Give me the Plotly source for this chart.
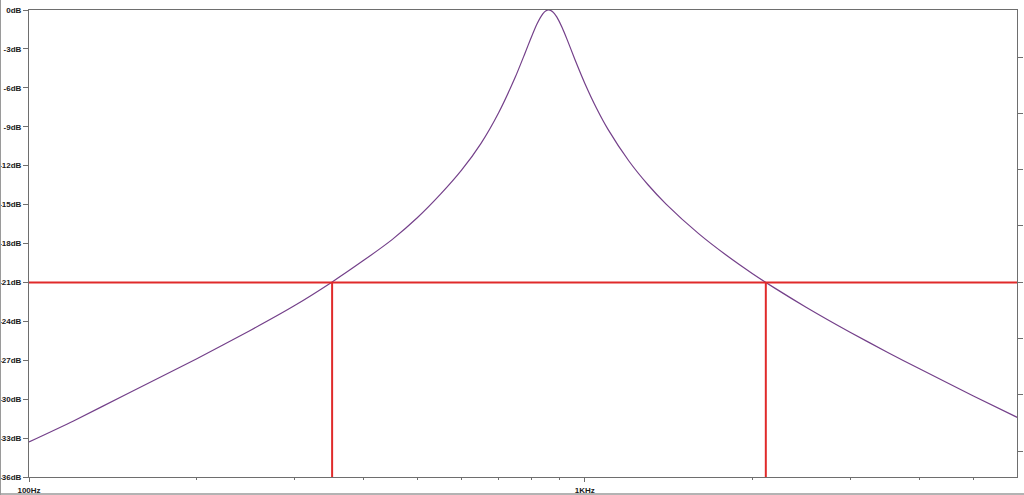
import plotly.graph_objects as go

# Frequency response (Hz, dB)
freq_hz = [100, 120, 150, 200, 250, 300, 350, 400, 450, 500, 550, 600, 650, 700,
           750, 780, 800, 820, 840, 850, 861, 875, 890, 910, 930, 960, 1000, 1050,
           1100, 1200, 1300, 1400, 1600, 1800, 2000, 2200, 2500, 3000, 3500, 4000,
           5000, 6000]
gain_db = [-33.3, -31.7, -29.6, -26.9, -24.7, -22.8, -21.0, -19.3, -17.7, -16.0,
           -14.2, -12.35, -10.3, -7.9, -5.15, -3.35, -2.16, -1.08, -0.30, -0.08,
           0.0, -0.13, -0.53, -1.35, -2.32, -3.83, -5.66, -7.59, -9.18, -11.64,
           -13.49, -14.96, -17.22, -18.93, -20.31, -21.46, -22.91, -24.84, -26.38,
           -27.66, -29.75, -31.41]

# Cursor lines
level_db = -21
cutoff_hz = [351, 2116]

# Axes
y_ticks = [0, -3, -6, -9, -12, -15, -18, -21, -24, -27, -30, -33, -36]
y_ticktext = ["0dB", "-3dB", "-6dB", "-9dB", "-12dB", "-15dB", "-18dB", "-21dB",
              "-24dB", "-27dB", "-30dB", "-33dB", "-36dB"]
x_ticks = [100, 1000]
x_ticktext = ["100Hz", "1KHz"]
x_minor = [200, 300, 400, 500, 600, 700, 800, 900, 2000, 3000, 4000, 5000]
f_min, f_max = 100, 5990
phase_ticks = [0, -10, -20, -30, -40, -50, -60, -70]

curve_color = "#74408a"
red = "#e02a2a"
axis_color = "#6e6e6e"

fig = go.Figure()

fig.add_trace(go.Scatter(
    x=freq_hz, y=gain_db, mode="lines", line=dict(color=curve_color, width=1.2, shape="spline", smoothing=0.6),
    hoverinfo="skip", showlegend=False))

fig.add_trace(go.Scatter(
    x=[f_min, f_max], y=[level_db, level_db], mode="lines",
    line=dict(color=red, width=2), hoverinfo="skip", showlegend=False))

for fc in cutoff_hz:
    fig.add_trace(go.Scatter(
        x=[fc, fc], y=[level_db, y_ticks[-1]], mode="lines",
        line=dict(color=red, width=2), hoverinfo="skip", showlegend=False))

# invisible trace on secondary axis so that it renders
fig.add_trace(go.Scatter(x=[f_min], y=[0], yaxis="y2", mode="markers",
                         marker=dict(opacity=0), hoverinfo="skip", showlegend=False))

tick_font = dict(family="Arial", size=8, color="#1a1a1a", weight="bold")

fig.update_layout(
    width=1024, height=495,
    margin=dict(l=29, r=7, t=10, b=18, autoexpand=False),
    paper_bgcolor="white", plot_bgcolor="white",
    xaxis=dict(
        type="log", range=[2, 3.7774], automargin=False,
        tickvals=x_ticks, ticktext=x_ticktext, ticks="outside", ticklen=4,
        tickcolor=axis_color, tickfont=tick_font, ticklabelstandoff=1,
        showline=True, linecolor=axis_color, linewidth=1, mirror=True,
        showgrid=False, zeroline=False,
        minor=dict(tickvals=x_minor, ticks="outside", ticklen=2, tickcolor=axis_color, showgrid=False),
    ),
    yaxis=dict(
        range=[-36, 0], tickvals=y_ticks, ticktext=y_ticktext, automargin=False,
        ticks="outside", ticklen=5, tickcolor=axis_color, tickfont=tick_font,
        showline=True, linecolor=axis_color, linewidth=1,
        showgrid=False, zeroline=False, ticklabelstandoff=0,
    ),
    yaxis2=dict(
        overlaying="y", side="right", range=[-74.6, 8.35], automargin=False,
        tickvals=phase_ticks, showticklabels=False,
        ticks="outside", ticklen=5, tickcolor=axis_color,
        showline=True, linecolor=axis_color, linewidth=1,
        showgrid=False, zeroline=False,
    ),
    shapes=[
        dict(type="line", xref="paper", yref="paper", x0=-0.0291, x1=-0.0291, y0=-0.04, y1=1.03,
             line=dict(color="#9a9a9a", width=1.5)),
        dict(type="line", xref="paper", yref="paper", x0=-0.03, x1=1.01, y0=-0.0364, y1=-0.0364,
             line=dict(color="#9a9a9a", width=1.5)),
    ],
)

fig.write_html("out.html", config={"displayModeBar": False},
               post_script="document.body.style.margin='0';document.body.style.overflow='hidden';")
